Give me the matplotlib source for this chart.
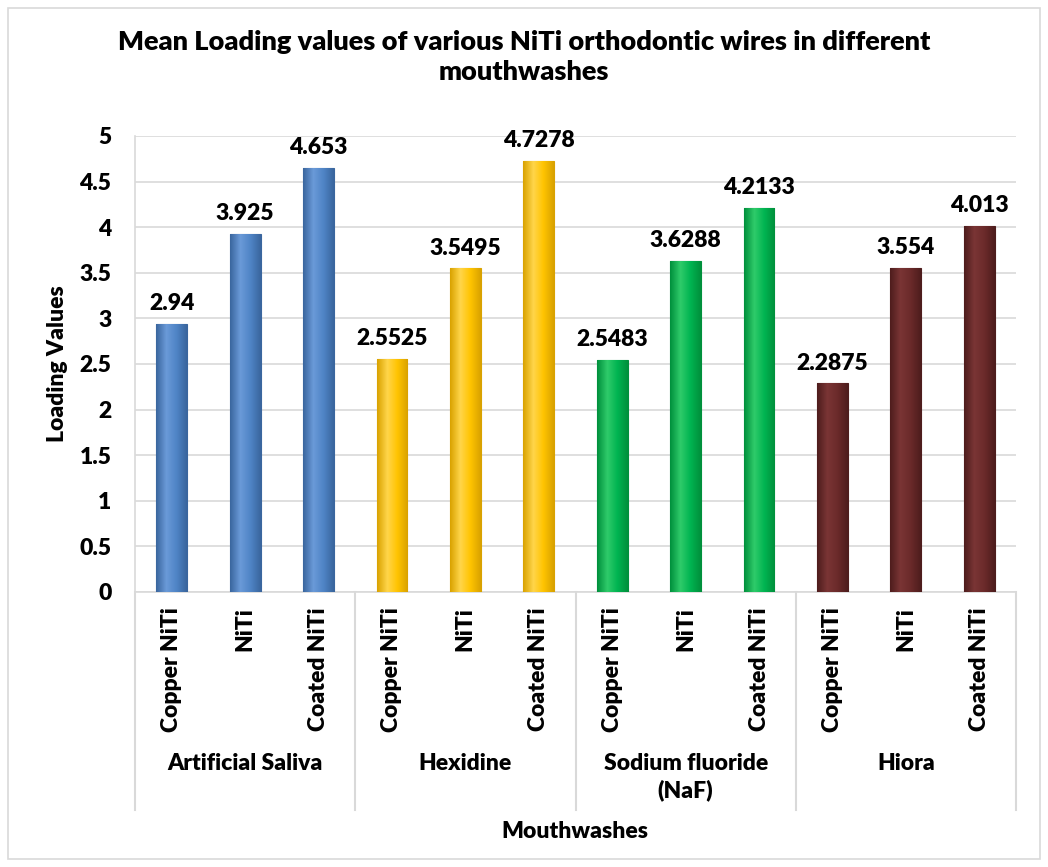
#
# Mean loading values of NiTi wires in mouthwashes - grouped bar chart
#
import numpy as np
import matplotlib
matplotlib.use('Agg')
import matplotlib.pyplot as plt
from matplotlib.patches import Rectangle
from matplotlib.colors import LinearSegmentedColormap
#
# Data
#
groups = ['Artificial Saliva', 'Hexidine', 'Sodium fluoride\n(NaF)', 'Hiora']
wires = ['Copper NiTi', 'NiTi', 'Coated NiTi']
saliva = [2.94, 3.925, 4.653]
hexidine = [2.5525, 3.5495, 4.7278]
naf = [2.5483, 3.6288, 4.2133]
hiora = [2.2875, 3.554, 4.013]
value_text = ['2.94', '3.925', '4.653', '2.5525', '3.5495', '4.7278',
              '2.5483', '3.6288', '4.2133', '2.2875', '3.554', '4.013']
yticks = [0, 0.5, 1, 1.5, 2, 2.5, 3, 3.5, 4, 4.5, 5]
#
# Style
#
plt.rcParams['font.family'] = ['Lato', 'DejaVu Sans']
W = 'heavy'
fs = 16.5
# (edge dark, highlight, body, edge dark) per mouthwash
shades = [['#3A669E', '#6A9AD8', '#4F84C6', '#3A669E'],
          ['#D9A200', '#FFD54A', '#FFC400', '#D9A200'],
          ['#00903C', '#2FCB6A', '#00B451', '#00903C'],
          ['#4E1D1D', '#7A3535', '#6B2A2A', '#4E1D1D']]
grid_c = '#D9D9D9'

fig = plt.figure(figsize=(10.48, 8.67), dpi=100)
ax = fig.add_axes([135/1048, 1-592/867, 881/1048, 456/867])

series = [saliva, hexidine, naf, hiora]
grad = np.linspace(0, 1, 64).reshape(1, -1)
pos = 0
for g, vals in enumerate(series):
    xs = [pos + i for i in range(len(vals))]
    bars = ax.bar(xs, vals, width=0.42, color=shades[g][2], edgecolor=shades[g][0],
                  linewidth=0.8, zorder=3)
    cmap = LinearSegmentedColormap.from_list('b%d' % g, shades[g])
    for p in bars:
        x0, y0 = p.get_x(), p.get_y()
        im = ax.imshow(grad, cmap=cmap, aspect='auto', zorder=3.5,
                       extent=(x0, x0 + p.get_width(), y0, y0 + p.get_height()))
        im.set_clip_path(p)
    pos += len(vals)

allvals = saliva + hexidine + naf + hiora
for i, (v, t) in enumerate(zip(allvals, value_text)):
    ax.annotate(t, (i, v), xytext=(0, 7), textcoords='offset points',
                ha='center', va='bottom', fontsize=fs, fontweight=W)

ax.set_xlim(-0.5, len(allvals) - 0.5)
ax.set_ylim(0, 5)
ax.set_yticks(yticks)
ax.set_yticklabels([f'{t:g}' for t in yticks], fontsize=fs, fontweight=W)
ax.tick_params(axis='y', length=0, pad=17)
ax.set_xticks([])
ax.yaxis.grid(True, color=grid_c, linewidth=1.2, zorder=0)
for s in ['top', 'right']:
    ax.spines[s].set_visible(False)
for s in ['left', 'bottom']:
    ax.spines[s].set_color(grid_c)
    ax.spines[s].set_linewidth(1.2)

# multi-level category axis
trans = ax.get_xaxis_transform()
for i in range(len(allvals)):
    ax.text(i, -0.033, wires[i % 3], transform=trans, rotation=90,
            ha='center', va='top', fontsize=fs, fontweight=W)
for g, name in enumerate(groups):
    ax.text(g * 3 + 1, -0.352, name, transform=trans, ha='center', va='top',
            fontsize=fs, fontweight=W, linespacing=1.35)
for b in [-0.5, 2.5, 5.5, 8.5, 11.5]:
    ax.plot([b, b], [0, -0.478], transform=trans, color=grid_c,
            linewidth=1.5, clip_on=False)

ax.set_ylabel('Loading Values', fontsize=fs, fontweight=W, labelpad=8)
fig.text(575/1048, 1-832/867, 'Mouthwashes', ha='center', va='center',
         fontsize=fs, fontweight=W)
fig.text(0.5, 1-57/867,
         'Mean Loading values of various NiTi orthodontic wires in different\nmouthwashes',
         ha='center', va='center', fontsize=19.5, fontweight=W, linespacing=1.3)

# chart border
fig.patches.append(Rectangle((8/1048, 8/867), 1-16/1048, 1-16/867, transform=fig.transFigure,
                             fill=False, edgecolor=grid_c, linewidth=1.2))

fig.savefig('out.png', dpi=100)
